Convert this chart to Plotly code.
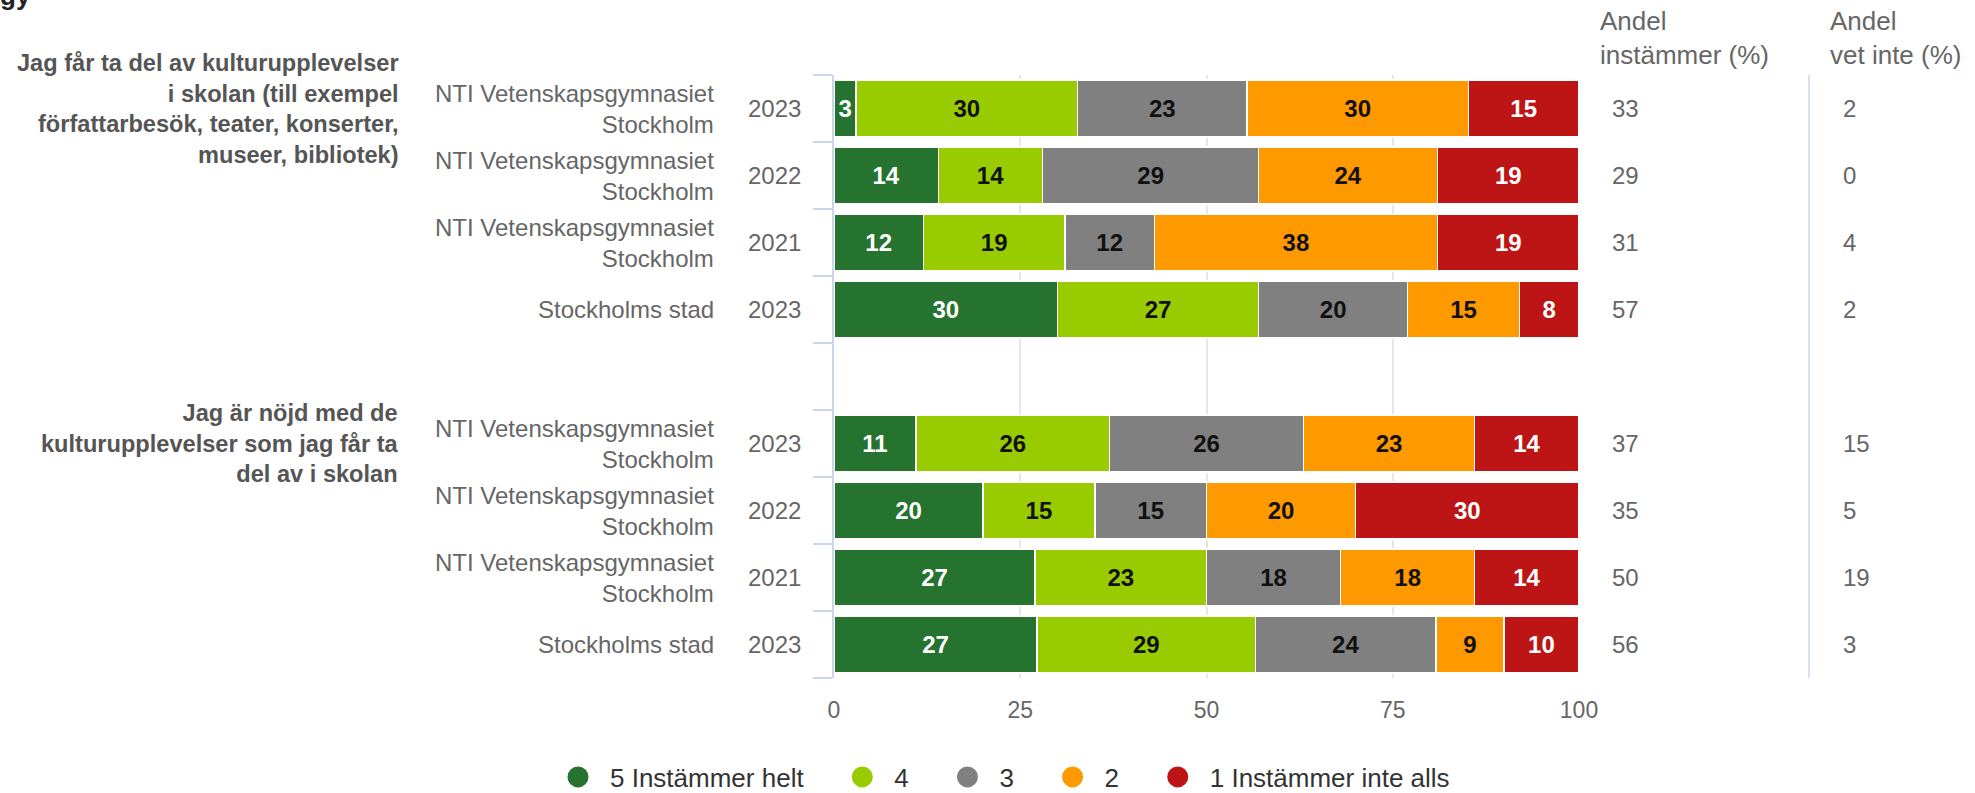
import plotly.graph_objects as go

# ---------------- data ----------------
series_names = ["5 Instämmer helt", "4", "3", "2", "1 Instämmer inte alls"]
series_colors = ["#26732f", "#99cc00", "#808080", "#ff9900", "#bd1515"]
label_colors = ["#ffffff", "#111111", "#111111", "#111111", "#ffffff"]

questions = [
    "Jag får ta del av kulturupplevelser<br>i skolan (till exempel<br>författarbesök, teater, konserter,<br>museer, bibliotek)",
    "Jag är nöjd med de<br>kulturupplevelser som jag får ta<br>del av i skolan",
]
units = ["NTI Vetenskapsgymnasiet<br>Stockholm", "NTI Vetenskapsgymnasiet<br>Stockholm",
         "NTI Vetenskapsgymnasiet<br>Stockholm", "Stockholms stad"]
years = ["2023", "2022", "2021", "2023"]

# values per question, per row: [5, 4, 3, 2, 1]
q1_values = [
    [3, 30, 23, 30, 15],
    [14, 14, 29, 24, 19],
    [12, 19, 12, 38, 19],
    [30, 27, 20, 15, 8],
]
q2_values = [
    [11, 26, 26, 23, 14],
    [20, 15, 15, 20, 30],
    [27, 23, 18, 18, 14],
    [27, 29, 24, 9, 10],
]
q1_agree = [33, 29, 31, 57]
q1_dontknow = [2, 0, 4, 2]
q2_agree = [37, 35, 50, 56]
q2_dontknow = [15, 5, 19, 3]

x_ticks = [0, 25, 50, 75, 100]

# ---------------- layout geometry ----------------
W, H = 1975, 793
L, R, T, B = 834, 1579, 75, 678
PW, PH = R - L, B - T


def xp(px):
    return (px - L) / PW


def yp(py):
    return (B - py) / PH


FONT = "Liberation Sans, Arial, sans-serif"
NBSP = "\u00a0"

all_values = [q1_values, q2_values]
all_agree = [q1_agree, q2_agree]
all_dk = [q1_dontknow, q2_dontknow]
# row positions: group 1 -> 0..3, empty slot 4, group 2 -> 5..8
row_pos = []
for g in range(len(questions)):
    for r in range(len(units)):
        row_pos.append(g * (len(units) + 1) + r)
n_slots = len(questions) * (len(units) + 1) - 1  # 9

flat_rows = [row for grp in all_values for row in grp]

fig = go.Figure()
for s, name in enumerate(series_names):
    vals = [row[s] for row in flat_rows]
    fig.add_trace(go.Bar(
        y=row_pos, x=vals, orientation="h", name=name,
        marker=dict(color=series_colors[s], line=dict(color="#ffffff", width=1.5)),
        text=[str(v) for v in vals], texttemplate="<b>%{text}</b>",
        textposition="inside", insidetextanchor="middle",
        textfont=dict(family=FONT, size=24, color=label_colors[s]),
        showlegend=False, hoverinfo="skip",
    ))
legend_pad = [3, 3, 3, 3, 0]
for s, name in enumerate(series_names):
    # legend entry with round marker (trailing no-break spaces widen item spacing)
    fig.add_trace(go.Scatter(
        x=[None], y=[None], mode="markers", name=name + NBSP * legend_pad[s],
        marker=dict(color=series_colors[s], size=16, symbol="circle",
                    line=dict(color=series_colors[s], width=5)),
        showlegend=True,
    ))

annotations = []
for g, q in enumerate(questions):
    first = g * (len(units) + 1)
    annotations.append(dict(
        x=xp(401), xref="paper", y=first, yref="y", xanchor="right", yanchor="middle",
        text="<b>" + q + "</b>", showarrow=False, align="right",
        font=dict(family=FONT, size=23.6, color="#555555"),
    ))
    for r in range(len(units)):
        pos = first + r
        annotations.append(dict(
            x=xp(716), xref="paper", y=pos, yref="y", xanchor="right", yanchor="middle",
            text=units[r], showarrow=False, align="right",
            font=dict(family=FONT, size=24, color="#666666"),
        ))
        annotations.append(dict(
            x=xp(803), xref="paper", y=pos, yref="y", xanchor="right", yanchor="middle",
            text=years[r], showarrow=False, align="right",
            font=dict(family=FONT, size=24, color="#666666"),
        ))
        annotations.append(dict(
            x=xp(1610), xref="paper", y=pos, yref="y", xanchor="left", yanchor="middle",
            text=str(all_agree[g][r]), showarrow=False, align="left",
            font=dict(family=FONT, size=24, color="#666666"),
        ))
        annotations.append(dict(
            x=xp(1841), xref="paper", y=pos, yref="y", xanchor="left", yanchor="middle",
            text=str(all_dk[g][r]), showarrow=False, align="left",
            font=dict(family=FONT, size=24, color="#666666"),
        ))

# column headers
annotations.append(dict(
    x=xp(1598), xref="paper", y=yp(38), yref="paper", xanchor="left", yanchor="middle",
    text="Andel<br>instämmer (%)", showarrow=False, align="left",
    font=dict(family=FONT, size=26, color="#666666"),
))
annotations.append(dict(
    x=xp(1828), xref="paper", y=yp(38), yref="paper", xanchor="left", yanchor="middle",
    text="Andel<br>vet inte (%)", showarrow=False, align="left",
    font=dict(family=FONT, size=26, color="#666666"),
))
# clipped title remnant at the very top
annotations.append(dict(
    x=xp(-2), xref="paper", y=yp(-4), yref="paper", xanchor="left", yanchor="middle",
    text="<b>gy</b>", showarrow=False, align="left",
    font=dict(family=FONT, size=26, color="#222222"),
))

shapes = [
    dict(type="line", xref="paper", yref="paper", x0=xp(1809), x1=xp(1809),
         y0=yp(75), y1=yp(678), line=dict(color="#ccd6eb", width=1.5)),
]

fig.update_layout(
    width=W, height=H,
    margin=dict(l=L, r=W - R, t=T, b=H - B, autoexpand=False),
    paper_bgcolor="#ffffff", plot_bgcolor="#ffffff",
    barmode="stack", barnorm="percent", bargap=0.15,
    uniformtext=dict(minsize=24, mode="show"),
    font=dict(family=FONT, color="#666666"),
    xaxis=dict(
        range=[0, 100], tickvals=x_ticks, ticktext=[str(t) for t in x_ticks],
        showgrid=True, gridcolor="#e6e6e6", gridwidth=1.5, zeroline=False,
        showline=False, ticks="outside", ticklen=11, tickcolor="rgba(0,0,0,0)",
        tickfont=dict(family=FONT, size=23, color="#666666"), fixedrange=True,
    ),
    yaxis=dict(
        range=[n_slots - 0.5, -0.5],
        tickvals=[k - 0.5 for k in range(n_slots + 1)],
        ticktext=["" for _ in range(n_slots + 1)],
        ticks="outside", ticklen=19, tickcolor="#ccd6eb", tickwidth=1.5,
        showline=True, linecolor="#ccd6eb", linewidth=1.5,
        showgrid=False, zeroline=False, fixedrange=True,
    ),
    legend=dict(
        orientation="h", x=xp(546), xanchor="left", y=yp(777), yanchor="middle",
        font=dict(family=FONT, size=26, color="#333333"),
        itemsizing="trace", itemwidth=54, traceorder="normal",
        bgcolor="rgba(0,0,0,0)",
    ),
    annotations=annotations,
    shapes=shapes,
)

fig.write_html("out.html", config={"displayModeBar": False},
               post_script="document.body.style.margin='0px';")
